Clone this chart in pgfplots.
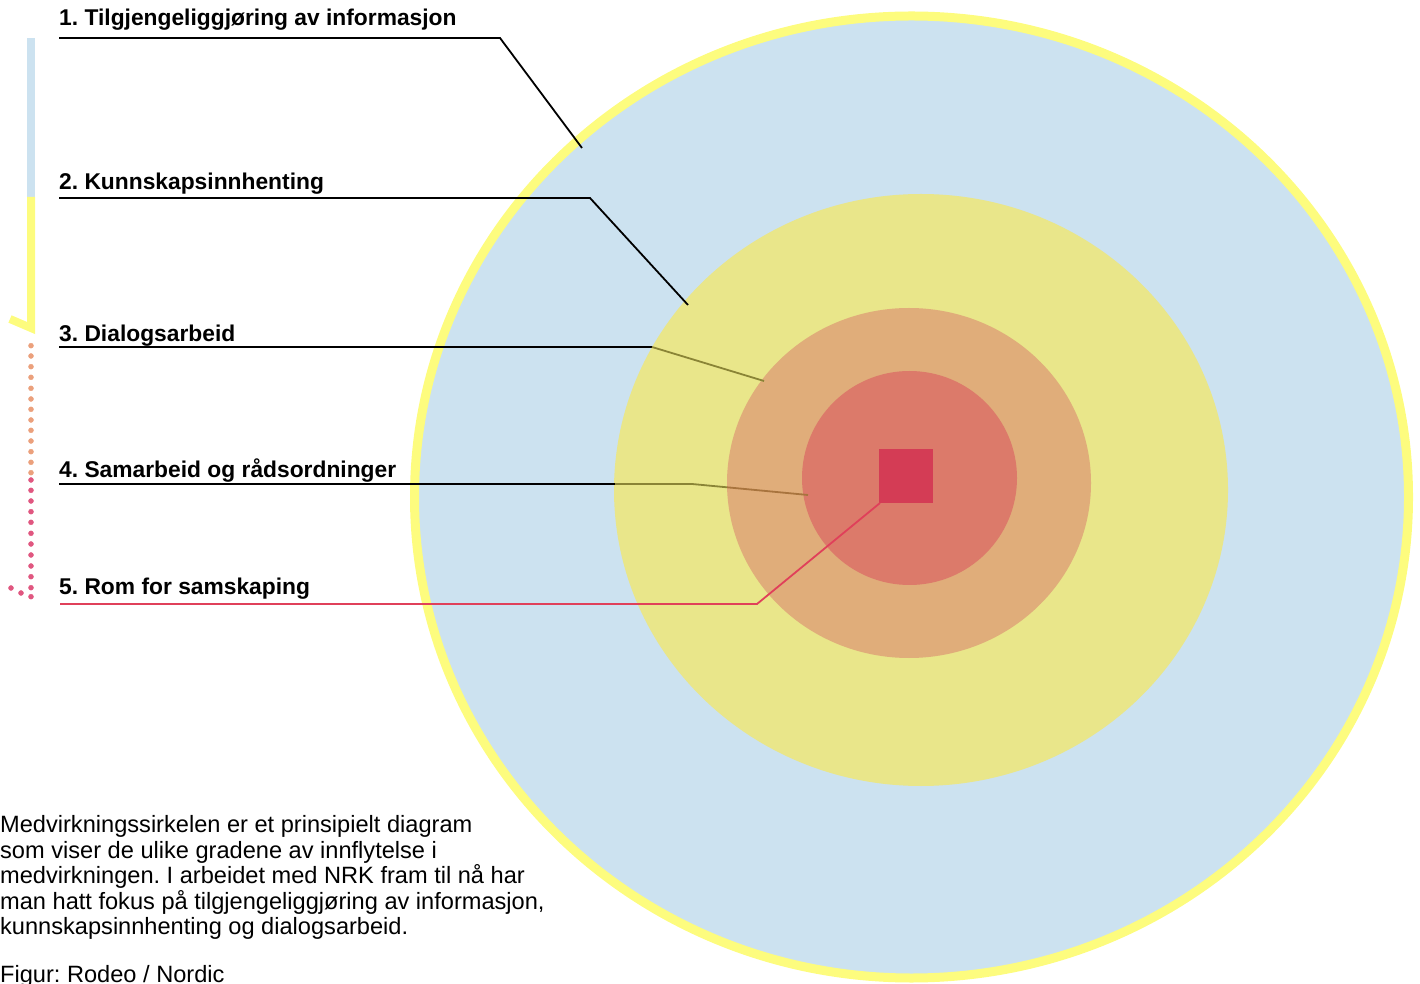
\documentclass[border=0pt]{standalone}
\usepackage{pgfplots}
\pgfplotsset{compat=1.18}
\usepackage{fontspec}
\setmainfont{Liberation Sans}
\frenchspacing
\definecolor{cblue}{HTML}{CCE2F0}
\definecolor{cring}{HTML}{FDFC7E}
\definecolor{cyel}{HTML}{E9E68A}
\definecolor{corange}{HTML}{E0AD7A}
\definecolor{cred}{HTML}{DC7A6A}
\definecolor{csq}{HTML}{D43C55}
\definecolor{cline}{HTML}{E0405A}
\definecolor{colive}{HTML}{8A8436}
\definecolor{cbrown}{HTML}{A8743E}
\definecolor{cdoto}{HTML}{EBA07C}
\definecolor{cdotp}{HTML}{E05780}
\begin{document}
\begin{tikzpicture}
\begin{axis}[at={(0,0)}, anchor=south west, scale only axis,
  width=1420pt, height=983pt, xmin=0, xmax=1420, ymin=0, ymax=983,
  hide axis, clip=true]
% circles
\fill[cblue, draw=cring, line width=9pt] (axis cs:911.5,486) ellipse [x radius=497pt, y radius=481pt];
\fill[cyel] (axis cs:921,493) ellipse [x radius=307pt, y radius=296pt];
\fill[corange] (axis cs:909,500) ellipse [x radius=182pt, y radius=175pt];
\fill[cred] (axis cs:909.5,505) ellipse [x radius=107.5pt, y radius=107pt];
\fill[csq] (axis cs:879,480) rectangle (axis cs:933,534);
% leader lines
\addplot[black, line width=1.8pt, mark=none] coordinates {(59,945) (500,945) (582,835)};
\addplot[black, line width=1.8pt, mark=none] coordinates {(59,785) (590,785) (688,678)};
\addplot[black, line width=1.8pt, mark=none] coordinates {(59,636) (652,636)};
\addplot[colive, line width=1.8pt, mark=none] coordinates {(652,636) (764,602)};
\addplot[black, line width=1.8pt, mark=none] coordinates {(59,499) (615,499)};
\addplot[colive, line width=1.8pt, mark=none] coordinates {(615,499) (692,499) (727,495.7)};
\addplot[cbrown, line width=1.8pt, mark=none] coordinates {(727,495.7) (808,488)};
\addplot[cline, line width=1.8pt, mark=none] coordinates {(60,379) (757,379) (880,480)};
% left bar
\addplot[cblue, line width=8pt, mark=none] coordinates {(31,945) (31,786)};
\addplot[cring, line width=8pt, mark=none, line join=miter] coordinates {(31,786) (31,655) (10,664)};
\addplot[only marks, mark=*, mark size=2.5pt, cdoto, mark options={draw=none, fill=cdoto}] coordinates {
(31,637.3) (31,627) (31,616.3) (31,605.7) (31,594.7) (31,584) (31,573.7) (31,563) (31,552.7) (31,542) (31,531.3) (31,520.7) (31,510.3)};
\addplot[only marks, mark=*, mark size=2.5pt, cdotp, mark options={draw=none, fill=cdotp}] coordinates {
(31,503) (31,492.7) (31,482) (31,471.3) (31,460.7) (31,449.7) (31,439) (31,428) (31,417) (31,406.3) (31,395.3) (31,386.3) (21,390) (11,395)};
% labels
\node[anchor=base west, inner sep=0pt, font=\fontsize{22.8}{26}\selectfont\bfseries] at (axis cs:59,957) {1. Tilgjengeliggjøring av informasjon};
\node[anchor=base west, inner sep=0pt, font=\fontsize{22.8}{26}\selectfont\bfseries] at (axis cs:59,793) {2. Kunnskapsinnhenting};
\node[anchor=base west, inner sep=0pt, font=\fontsize{22.8}{26}\selectfont\bfseries] at (axis cs:59,641) {3. Dialogsarbeid};
\node[anchor=base west, inner sep=0pt, font=\fontsize{22.8}{26}\selectfont\bfseries] at (axis cs:59,505) {4. Samarbeid og rådsordninger};
\node[anchor=base west, inner sep=0pt, font=\fontsize{22.8}{26}\selectfont\bfseries] at (axis cs:59,388) {5. Rom for samskaping};
% body text
\node[anchor=base west, inner sep=0pt, font=\fontsize{23.6}{25.5}\selectfont] at (axis cs:0,151) {Medvirkningssirkelen er et prinsipielt diagram};
\node[anchor=base west, inner sep=0pt, font=\fontsize{23.6}{25.5}\selectfont] at (axis cs:0,125) {som viser de ulike gradene av innflytelse i};
\node[anchor=base west, inner sep=0pt, font=\fontsize{23.6}{25.5}\selectfont] at (axis cs:0,100) {medvirkningen. I arbeidet med NRK fram til nå har};
\node[anchor=base west, inner sep=0pt, font=\fontsize{23.6}{25.5}\selectfont] at (axis cs:0,74) {man hatt fokus på tilgjengeliggjøring av informasjon,};
\node[anchor=base west, inner sep=0pt, font=\fontsize{23.6}{25.5}\selectfont] at (axis cs:0,49) {kunnskapsinnhenting og dialogsarbeid.};
\node[anchor=base west, inner sep=0pt, font=\fontsize{23.6}{25.5}\selectfont] at (axis cs:0,1) {Figur: Rodeo / Nordic};
\end{axis}
\pgfresetboundingbox
\path[use as bounding box] (0,0) rectangle (1420pt,983pt);
\end{tikzpicture}
\end{document}
